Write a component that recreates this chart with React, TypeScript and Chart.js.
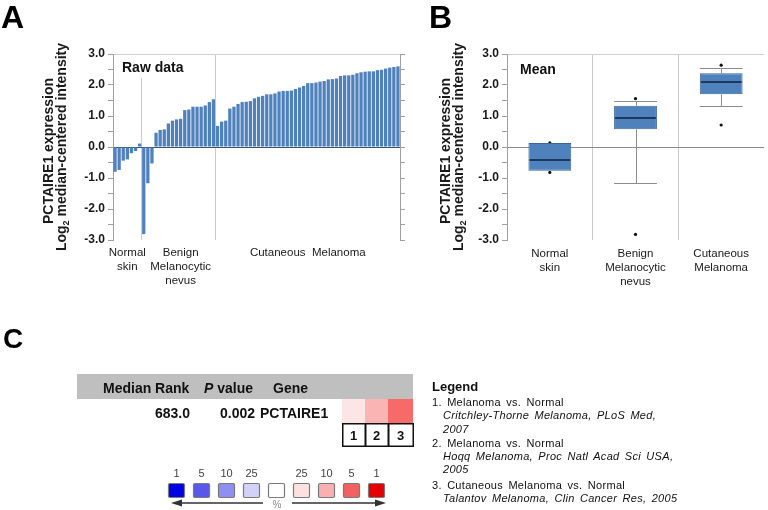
import React, { useEffect, useRef } from 'react';
import { Chart, registerables } from 'chart.js';

Chart.register(...registerables);

const FONT = '"Liberation Sans", Arial, Helvetica, sans-serif';
const BAR_BLUE = '#4f81bd';

// ---- Panel A: raw data (log2 median-centered intensity) ----
const normalSkinValues = [-0.8, -0.74, -0.44, -0.4, -0.2, -0.13, 0.11];
const benignNevusValues = [-2.81, -1.17, -0.53, 0.46, 0.55, 0.57, 0.76, 0.85, 0.89, 0.91, 1.19, 1.21, 1.3, 1.3, 1.3, 1.34, 1.45, 1.54];
const melanomaValues = [0.68, 0.82, 0.85, 1.24, 1.3, 1.39, 1.45, 1.46, 1.48, 1.57, 1.62, 1.65, 1.7, 1.7, 1.73, 1.79, 1.81, 1.81, 1.82, 1.87, 1.92, 1.97, 2.06, 2.06, 2.08, 2.11, 2.13, 2.18, 2.19, 2.21, 2.29, 2.31, 2.31, 2.33, 2.38, 2.41, 2.43, 2.44, 2.44, 2.48, 2.49, 2.53, 2.56, 2.58, 2.6];
const rawGroupLabels = [['Normal', 'skin'], ['Benign', 'Melanocytic', 'nevus'], ['Cutaneous  Melanoma']];

// ---- Panel B: box plot summary ----
const boxCategories = ['Normal skin', 'Benign Melanocytic nevus', 'Cutaneous Melanoma'];
const boxCategoryLines = [['Normal', 'skin'], ['Benign', 'Melanocytic', 'nevus'], ['Cutaneous', 'Melanoma']];
const boxQ1 = [-0.77, 0.57, 1.7];
const boxQ3 = [0.13, 1.33, 2.38];
const boxMedian = [-0.42, 0.95, 2.1];
const whiskerLow = [-0.77, -1.17, 1.33];
const whiskerHigh = [0.13, 1.47, 2.54];
const outlierCategory = [0, 0, 1, 1, 2, 2];
const outlierValue = [0.13, -0.82, 1.56, -2.82, 2.64, 0.71];

// ---- Panel C ----
const headerLabels = ['Median Rank', 'P value', 'Gene'];
const rowValues = ['683.0', '0.002', 'PCTAIRE1'];
const heatColors = ['#fde5e5', '#fbb4b4', '#f76a6a'];
const heatIds = ['1', '2', '3'];
const scaleLabels = ['1', '5', '10', '25', '', '25', '10', '5', '1'];
const scaleColors = ['#0000e0', '#5858ea', '#8f8ff1', '#d2d2f9', '#ffffff', '#fde1e1', '#f8b0b0', '#f06262', '#e40000'];
const legendLines = [
  { t: '1. Melanoma vs. Normal', i: false },
  { t: 'Critchley-Thorne Melanoma, PLoS Med,', i: true },
  { t: '2007', i: true },
  { t: '2. Melanoma vs. Normal', i: false },
  { t: 'Hoqq Melanoma, Proc Natl Acad Sci USA,', i: true },
  { t: '2005', i: true },
  { t: '3. Cutaneous Melanoma vs. Normal', i: false },
  { t: 'Talantov Melanoma, Clin Cancer Res, 2005', i: true },
];
const legendBaselines = [406, 419, 433, 447, 460, 473, 489, 502];

const yAxisOptions = (position: string, showLabels: boolean, zeroColor: string | null, width: number) => ({
  type: 'linear',
  position,
  min: -3,
  max: 3,
  afterFit: (s: any) => { s.width = width; },
  ticks: {
    stepSize: 0.5,
    autoSkip: false,
    padding: 3,
    color: '#1a1a1a',
    font: { family: FONT, size: 12, weight: 'bold' },
    callback: (v: any) => (showLabels && Number.isInteger(v) ? Number(v).toFixed(1) : ''),
  },
  grid: {
    drawOnChartArea: zeroColor !== null,
    drawTicks: true,
    tickLength: 5,
    tickColor: '#a0a0a0',
    color: (ctx: any) => {
      if (!ctx.tick) return 'rgba(0,0,0,0)';
      if (ctx.tick.value === 0) return zeroColor || 'rgba(0,0,0,0)';
      if (ctx.tick.value === 3) return '#d0d0d0';
      return 'rgba(0,0,0,0)';
    },
  },
  border: { color: '#a0a0a0' },
});

const cornerLabel = (text: string, dx: number, dy: number, whiteBox: boolean) => ({
  id: 'cornerLabel',
  afterDatasetsDraw(chart: any) {
    const { ctx, chartArea } = chart;
    ctx.save();
    ctx.font = `bold 14px ${FONT}`;
    const w = ctx.measureText(text).width;
    if (whiteBox) {
      ctx.fillStyle = '#ffffff';
      ctx.fillRect(chartArea.left + dx - 4, chartArea.top + 1, w + 8, 23);
    }
    ctx.fillStyle = '#111111';
    ctx.textBaseline = 'alphabetic';
    ctx.fillText(text, chartArea.left + dx, chartArea.top + dy);
    ctx.restore();
  },
});

const boxPlotPlugin = {
  id: 'boxWhiskers',
  beforeDatasetsDraw(chart: any) {
    const meta = chart.getDatasetMeta(0);
    const y = chart.scales.y;
    const ctx = chart.ctx;
    ctx.save();
    ctx.strokeStyle = '#8c8c8c';
    ctx.lineWidth = 1;
    meta.data.forEach((bar: any, i: number) => {
      const half = bar.width / 2;
      const cx = Math.round(bar.x) + 0.5;
      const pairs = [[boxQ3[i], whiskerHigh[i]], [boxQ1[i], whiskerLow[i]]];
      for (const [from, to] of pairs) {
        if (to === from) continue;
        const y0 = y.getPixelForValue(from);
        const y1 = Math.round(y.getPixelForValue(to)) + 0.5;
        ctx.beginPath();
        ctx.moveTo(cx, y0);
        ctx.lineTo(cx, y1);
        ctx.moveTo(bar.x - half, y1);
        ctx.lineTo(bar.x + half, y1);
        ctx.stroke();
      }
    });
    ctx.restore();
  },
  afterDatasetsDraw(chart: any) {
    const meta = chart.getDatasetMeta(0);
    const y = chart.scales.y;
    const ctx = chart.ctx;
    ctx.save();
    ctx.strokeStyle = '#1c3960';
    ctx.lineWidth = 2;
    meta.data.forEach((bar: any, i: number) => {
      const half = bar.width / 2;
      const py = Math.round(y.getPixelForValue(boxMedian[i]));
      ctx.beginPath();
      ctx.moveTo(bar.x - half + 1, py);
      ctx.lineTo(bar.x + half - 1, py);
      ctx.stroke();
    });
    ctx.restore();
  },
};

function RawChart() {
  const ref = useRef<HTMLCanvasElement>(null);
  useEffect(() => {
    const values = [...normalSkinValues, ...benignNevusValues, ...melanomaValues];
    const sizes = [normalSkinValues.length, benignNevusValues.length, melanomaValues.length];
    const starts = [0, sizes[0], sizes[0] + sizes[1]];
    const midLabel = new Map<number, string[]>();
    starts.forEach((s, g) => midLabel.set(s + Math.floor(sizes[g] / 2), rawGroupLabels[g]));
    const boundaries = new Set([starts[1], starts[2]]);
    const chart = new Chart(ref.current as HTMLCanvasElement, {
      type: 'bar',
      data: {
        labels: values.map((_, i) => `S${i + 1}`),
        datasets: [{ data: values, backgroundColor: BAR_BLUE, barPercentage: 0.8, categoryPercentage: 1 }],
      },
      options: {
        responsive: false,
        animation: false,
        events: [],
        layout: { padding: { top: 14, right: 0, left: 0, bottom: 0 } },
        plugins: { legend: { display: false }, tooltip: { enabled: false } },
        scales: {
          x: {
            type: 'category',
            offset: true,
            afterFit: (s: any) => { s.height = 50; },
            grid: {
              offset: true,
              drawTicks: false,
              color: (ctx: any) => (boundaries.has(ctx.index) ? '#cccccc' : 'rgba(0,0,0,0)'),
            },
            border: { display: false },
            ticks: {
              autoSkip: false,
              maxRotation: 0,
              minRotation: 0,
              padding: 6,
              color: '#1a1a1a',
              font: { family: FONT, size: 11.5, lineHeight: 1.2 },
              callback: (_v: any, index: number) => midLabel.get(index) || '',
            },
          },
          y: yAxisOptions('left', true, '#3d5677', 83),
          y2: yAxisOptions('right', false, null, 10),
        },
      } as any,
      plugins: [cornerLabel('Raw data', 9, 18, true)],
    });
    return () => chart.destroy();
  }, []);
  return <canvas ref={ref} width={380} height={250} style={{ position: 'absolute', left: 30, top: 40 }} />;
}

function BoxChart() {
  const ref = useRef<HTMLCanvasElement>(null);
  useEffect(() => {
    const chart = new Chart(ref.current as HTMLCanvasElement, {
      type: 'bar',
      data: {
        labels: boxCategories,
        datasets: [
          {
            type: 'bar',
            data: boxQ1.map((q, i) => [q, boxQ3[i]]),
            backgroundColor: BAR_BLUE,
            borderColor: '#3a6698',
            borderWidth: 1,
            borderSkipped: false,
            grouped: false,
            barPercentage: 0.5,
            categoryPercentage: 1,
          },
          {
            type: 'scatter',
            data: outlierValue.map((v, i) => ({ x: boxCategories[outlierCategory[i]], y: v })),
            backgroundColor: '#111111',
            borderWidth: 0,
            pointRadius: 1.6,
          },
        ],
      } as any,
      options: {
        responsive: false,
        animation: false,
        events: [],
        layout: { padding: { top: 14, right: 4, left: 0, bottom: 0 } },
        plugins: { legend: { display: false }, tooltip: { enabled: false } },
        scales: {
          x: {
            type: 'category',
            offset: true,
            afterFit: (s: any) => { s.height = 50; },
            grid: {
              offset: true,
              drawTicks: false,
              color: (ctx: any) => (ctx.index === 1 || ctx.index === 2 ? '#cccccc' : 'rgba(0,0,0,0)'),
            },
            border: { display: false },
            ticks: {
              autoSkip: false,
              maxRotation: 0,
              minRotation: 0,
              padding: 7,
              color: '#1a1a1a',
              font: { family: FONT, size: 11.5, lineHeight: 1.2 },
              callback: (_v: any, index: number) => boxCategoryLines[index],
            },
          },
          y: yAxisOptions('left', true, '#8a8a8a', 87),
        },
      } as any,
      plugins: [boxPlotPlugin, cornerLabel('Mean', 13, 20, false)],
    });
    return () => chart.destroy();
  }, []);
  return <canvas ref={ref} width={348} height={250} style={{ position: 'absolute', left: 420, top: 40 }} />;
}

function YTitle({ x1, x2, yc }: { x1: number; x2: number; yc: number }) {
  return (
    <g fontWeight="bold" fontSize={14} fill="#1a1a1a" textAnchor="middle">
      <text transform={`translate(${x1},${yc + 2}) rotate(-90)`}>PCTAIRE1 expression</text>
      <text transform={`translate(${x2},${yc - 2}) rotate(-90)`}>
        Log<tspan fontSize={9} dy={3}>2</tspan>
        <tspan dy={-3}> median-centered intensity</tspan>
      </text>
    </g>
  );
}

export default function App() {
  const cellX = [342, 365, 388];
  const cellW = [23, 23, 25];
  return (
    <div style={{ position: 'absolute', left: 0, top: 0, width: 768, height: 510, background: '#ffffff', overflow: 'hidden', fontFamily: FONT }}>
      <RawChart />
      <BoxChart />
      <svg width={768} height={510} style={{ position: 'absolute', left: 0, top: 0, pointerEvents: 'none' }} fontFamily={FONT}>
        {/* panel letters */}
        <text x={1} y={28} fontSize={32} fontWeight="bold" fill="#000">A</text>
        <text x={429} y={28} fontSize={32} fontWeight="bold" fill="#000">B</text>
        <text x={3} y={348} fontSize={28} fontWeight="bold" fill="#000">C</text>

        <YTitle x1={53} x2={65.5} yc={149} />
        <YTitle x1={450} x2={462.5} yc={149} />

        {/* Panel C table */}
        <rect x={77} y={374} width={336} height={25} fill="#bfbfbf" />
        <text x={103} y={393} fontSize={14} fontWeight="bold" fill="#111">{headerLabels[0]}</text>
        <text x={204} y={393} fontSize={14} fontWeight="bold" fill="#111">
          <tspan fontStyle="italic">{headerLabels[1].split(' ')[0]}</tspan>
          <tspan> {headerLabels[1].split(' ')[1]}</tspan>
        </text>
        <text x={273} y={393} fontSize={14} fontWeight="bold" fill="#111">{headerLabels[2]}</text>
        <text x={190} y={418} fontSize={14} fontWeight="bold" fill="#111" textAnchor="end">{rowValues[0]}</text>
        <text x={255} y={418} fontSize={14} fontWeight="bold" fill="#111" textAnchor="end">{rowValues[1]}</text>
        <text x={260} y={418} fontSize={14} fontWeight="bold" fill="#111">{rowValues[2]}</text>
        {heatColors.map((c, i) => (
          <rect key={'h' + i} x={cellX[i]} y={399} width={cellW[i]} height={24} fill={c} />
        ))}
        {heatIds.map((t, i) => (
          <g key={'n' + i}>
            <rect x={cellX[i] + 0.75} y={423.75} width={cellW[i] - 0.5} height={22.5} fill="#fff" stroke="#111" strokeWidth={1.5} />
            <text x={cellX[i] + cellW[i] / 2} y={440} fontSize={13} fontWeight="bold" textAnchor="middle" fill="#111">{t}</text>
          </g>
        ))}

        {/* colour scale */}
        {scaleColors.map((c, i) => (
          <g key={'s' + i}>
            <text x={176.5 + i * 25} y={477} fontSize={11} textAnchor="middle" fill="#444">{scaleLabels[i]}</text>
            <rect x={168.5 + i * 25} y={483.5} width={16} height={14} rx={1.5} fill={c} stroke="#7a7a7a" strokeWidth={1.2} />
          </g>
        ))}
        <line x1={180} y1={503} x2={263} y2={503} stroke="#333" strokeWidth={1.5} />
        <polygon points="171,503 182,499.5 182,506.5" fill="#333" />
        <text x={277} y={508} fontSize={10} textAnchor="middle" fill="#888">%</text>
        <line x1={292} y1={503} x2={377} y2={503} stroke="#333" strokeWidth={1.5} />
        <polygon points="386,503 375,499.5 375,506.5" fill="#333" />

        {/* Legend */}
        <text x={432} y={391} fontSize={13} fontWeight="bold" fill="#111">Legend</text>
        {legendLines.map((l, i) => (
          <text
            key={'l' + i}
            x={l.i ? 443 : 432}
            y={legendBaselines[i]}
            fontSize={11}
            fontStyle={l.i ? 'italic' : 'normal'}
            fill="#111"
            style={{ letterSpacing: '0.3px', wordSpacing: '2px' }}
          >
            {l.t}
          </text>
        ))}
      </svg>
    </div>
  );
}
